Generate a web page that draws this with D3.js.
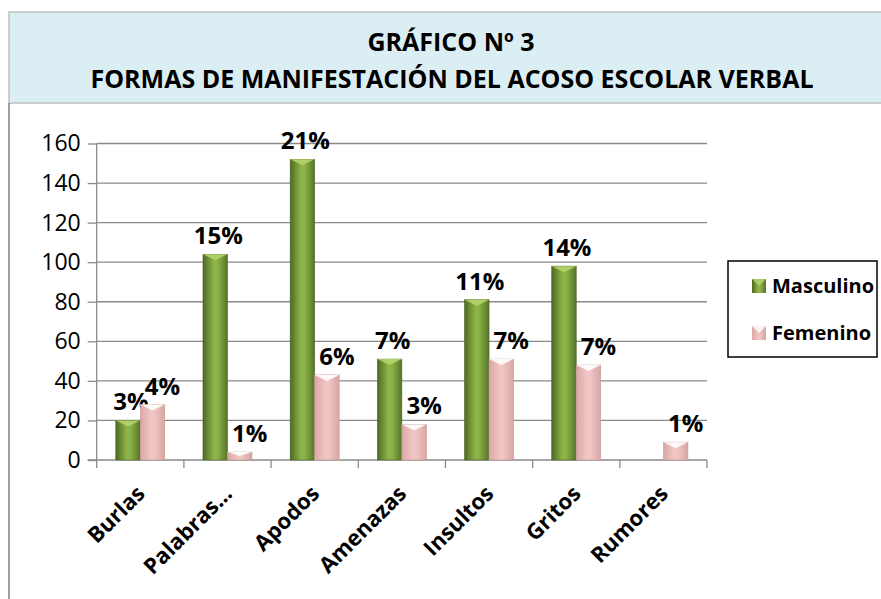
<!DOCTYPE html>
<html>
<head>
<meta charset="utf-8">
<script src="https://cdn.jsdelivr.net/npm/d3@7"></script>
<style>
  body { margin: 0; background: #fff; }
  svg { display: block; font-family: "Open Sans", sans-serif; }
</style>
</head>
<body>
<svg id="chart"></svg>
<script>
const categories = ["Burlas", "Palabras...", "Apodos", "Amenazas", "Insultos", "Gritos", "Rumores"];
const series = ["Masculino", "Femenino"];
const masculino = [20, 104, 152, 51, 81, 98, 0];
const femenino = [28, 4, 43, 18, 51, 48, 9];
const masculinoPct = ["3%", "15%", "21%", "7%", "11%", "14%", ""];
const femeninoPct = ["4%", "1%", "6%", "3%", "7%", "7%", "1%"];
const yTicks = [0, 20, 40, 60, 80, 100, 120, 140, 160];

const width = 881;
const height = 599;

const svg = d3.select("#chart")
    .attr("width", width)
    .attr("height", height);

// gradients for the bevelled bars
const defs = svg.append("defs");
const grad = (id, stops) => {
    const g = defs.append("linearGradient").attr("id", id)
        .attr("x1", "0%").attr("x2", "100%").attr("y1", "0%").attr("y2", "0%");
    stops.forEach(([o, c]) => g.append("stop").attr("offset", o).attr("stop-color", c));
};
grad("gGreen", [["0%", "#4e6a22"], ["45%", "#8fb54a"], ["60%", "#8ab246"], ["100%", "#56742a"]]);
grad("gPink", [["0%", "#d9a8a6"], ["45%", "#f1c6c5"], ["60%", "#efc3c2"], ["100%", "#d7a5a3"]]);

const colors = { Masculino: "url(#gGreen)", Femenino: "url(#gPink)" };
const capColors = { Masculino: "#b4d46a", Femenino: "#ffffff" };
const labelShift = { Masculino: 3, Femenino: 10 };

// title band and outer frame
svg.append("rect")
    .attr("x", 9).attr("y", 12)
    .attr("width", width).attr("height", 91)
    .attr("fill", "#dbeef4")
    .attr("stroke", "#bfbfbf")
    .attr("stroke-width", 1.5);

svg.append("line")
    .attr("x1", 9).attr("x2", 9)
    .attr("y1", 103).attr("y2", height)
    .attr("stroke", "#7f7f7f")
    .attr("stroke-width", 1.5);

svg.append("text")
    .attr("x", 451).attr("y", 51)
    .attr("text-anchor", "middle")
    .attr("font-weight", "bold")
    .attr("font-size", 25)
    .text("GRÁFICO Nº 3");

svg.append("text")
    .attr("x", 452).attr("y", 88)
    .attr("text-anchor", "middle")
    .attr("font-weight", "bold")
    .attr("font-size", 25)
    .text("FORMAS DE MANIFESTACIÓN DEL ACOSO ESCOLAR VERBAL");

// scales
const x0 = d3.scaleBand()
    .domain(categories)
    .range([96.7, 707]);

const x1 = d3.scaleBand()
    .domain(series)
    .range([0, x0.bandwidth()])
    .paddingOuter(0.78);

const y = d3.scaleLinear()
    .domain([0, 160])
    .range([460, 143.5]);

const g = svg.append("g");

// gridlines
g.selectAll("line.grid")
    .data(yTicks.slice(1))
    .enter()
    .append("line")
    .attr("class", "grid")
    .attr("x1", x0.range()[0])
    .attr("x2", x0.range()[1])
    .attr("y1", d => y(d))
    .attr("y2", d => y(d))
    .attr("stroke", "#8a8a8a")
    .attr("stroke-width", 1.3);

// y axis
const yAxis = g.append("g")
    .attr("transform", `translate(${x0.range()[0]},0)`)
    .call(d3.axisLeft(y).tickValues(yTicks).tickSize(9).tickPadding(7));
yAxis.selectAll("path, line").attr("stroke", "#8a8a8a").attr("stroke-width", 1.3);
yAxis.select(".domain").attr("d", `M0,${y(0)}V${y(160)}`);
yAxis.selectAll("text")
    .attr("font-family", "Open Sans, sans-serif")
    .attr("font-size", 23)
    .attr("fill", "#000");

// x axis
const xAxis = g.append("g");
xAxis.append("line")
    .attr("x1", x0.range()[0] - 9).attr("x2", x0.range()[1])
    .attr("y1", y(0)).attr("y2", y(0))
    .attr("stroke", "#8a8a8a").attr("stroke-width", 1.3);
xAxis.selectAll("line.tick")
    .data(categories.map(c => x0(c)).concat([x0.range()[1]]))
    .enter()
    .append("line")
    .attr("class", "tick")
    .attr("x1", d => d).attr("x2", d => d)
    .attr("y1", y(0)).attr("y2", y(0) + 8)
    .attr("stroke", "#8a8a8a").attr("stroke-width", 1.3);

xAxis.selectAll("text")
    .data(categories)
    .enter()
    .append("text")
    .attr("transform", d => `translate(${x0(d) + x0.bandwidth() / 2 + 6},${y(0) + 35}) rotate(-45)`)
    .attr("text-anchor", "end")
    .attr("font-weight", "bold")
    .attr("font-size", 22)
    .text(d => d);

// bars
const rows = categories.map((c, i) => ({
    key: c,
    values: [
        { s: "Masculino", v: masculino[i], pct: masculinoPct[i] },
        { s: "Femenino", v: femenino[i], pct: femeninoPct[i] }
    ]
}));

const groups = g.selectAll("g.cat")
    .data(rows)
    .enter()
    .append("g")
    .attr("class", "cat")
    .attr("transform", d => `translate(${x0(d.key)},0)`);

const bars = groups.selectAll("g.bar")
    .data(d => d.values.filter(v => v.v > 0))
    .enter()
    .append("g")
    .attr("class", "bar");

bars.append("rect")
    .attr("x", d => x1(d.s))
    .attr("y", d => y(d.v))
    .attr("width", x1.bandwidth())
    .attr("height", d => y(0) - y(d.v))
    .attr("fill", d => colors[d.s])
    .attr("stroke", d => d.s === "Masculino" ? "#4a6420" : "#c99896")
    .attr("stroke-width", 0.6);

// bevel cap on top of each bar
bars.append("path")
    .attr("d", d => {
        const xl = x1(d.s), w = x1.bandwidth(), t = y(d.v);
        const h = Math.min(6, (y(0) - t) / 2);
        return `M${xl},${t}L${xl + w},${t}L${xl + w / 2},${t + h}Z`;
    })
    .attr("fill", d => capColors[d.s])
    .attr("opacity", 0.9);

// percent labels
bars.filter(d => d.pct)
    .append("text")
    .attr("x", d => x1(d.s) + x1.bandwidth() / 2 + labelShift[d.s])
    .attr("y", d => y(d.v) - 10)
    .attr("text-anchor", "middle")
    .attr("font-weight", "bold")
    .attr("font-size", 24)
    .text(d => d.pct);

// legend
const legend = svg.append("g");
legend.append("rect")
    .attr("x", 728).attr("y", 261)
    .attr("width", 149).attr("height", 96)
    .attr("fill", "#fff")
    .attr("stroke", "#000")
    .attr("stroke-width", 1.5);

const li = legend.selectAll("g.item")
    .data(series)
    .enter()
    .append("g")
    .attr("class", "item")
    .attr("transform", (d, i) => `translate(752,${286 + i * 47})`);

li.append("rect")
    .attr("x", 0).attr("y", -7)
    .attr("width", 14).attr("height", 14)
    .attr("fill", d => colors[d]);

li.append("path")
    .attr("d", "M0,-7L14,-7L7,0Z")
    .attr("fill", d => capColors[d])
    .attr("opacity", 0.8);

li.append("text")
    .attr("x", 20).attr("y", 7)
    .attr("font-weight", "bold")
    .attr("font-size", 20)
    .text(d => d);
</script>
</body>
</html>
